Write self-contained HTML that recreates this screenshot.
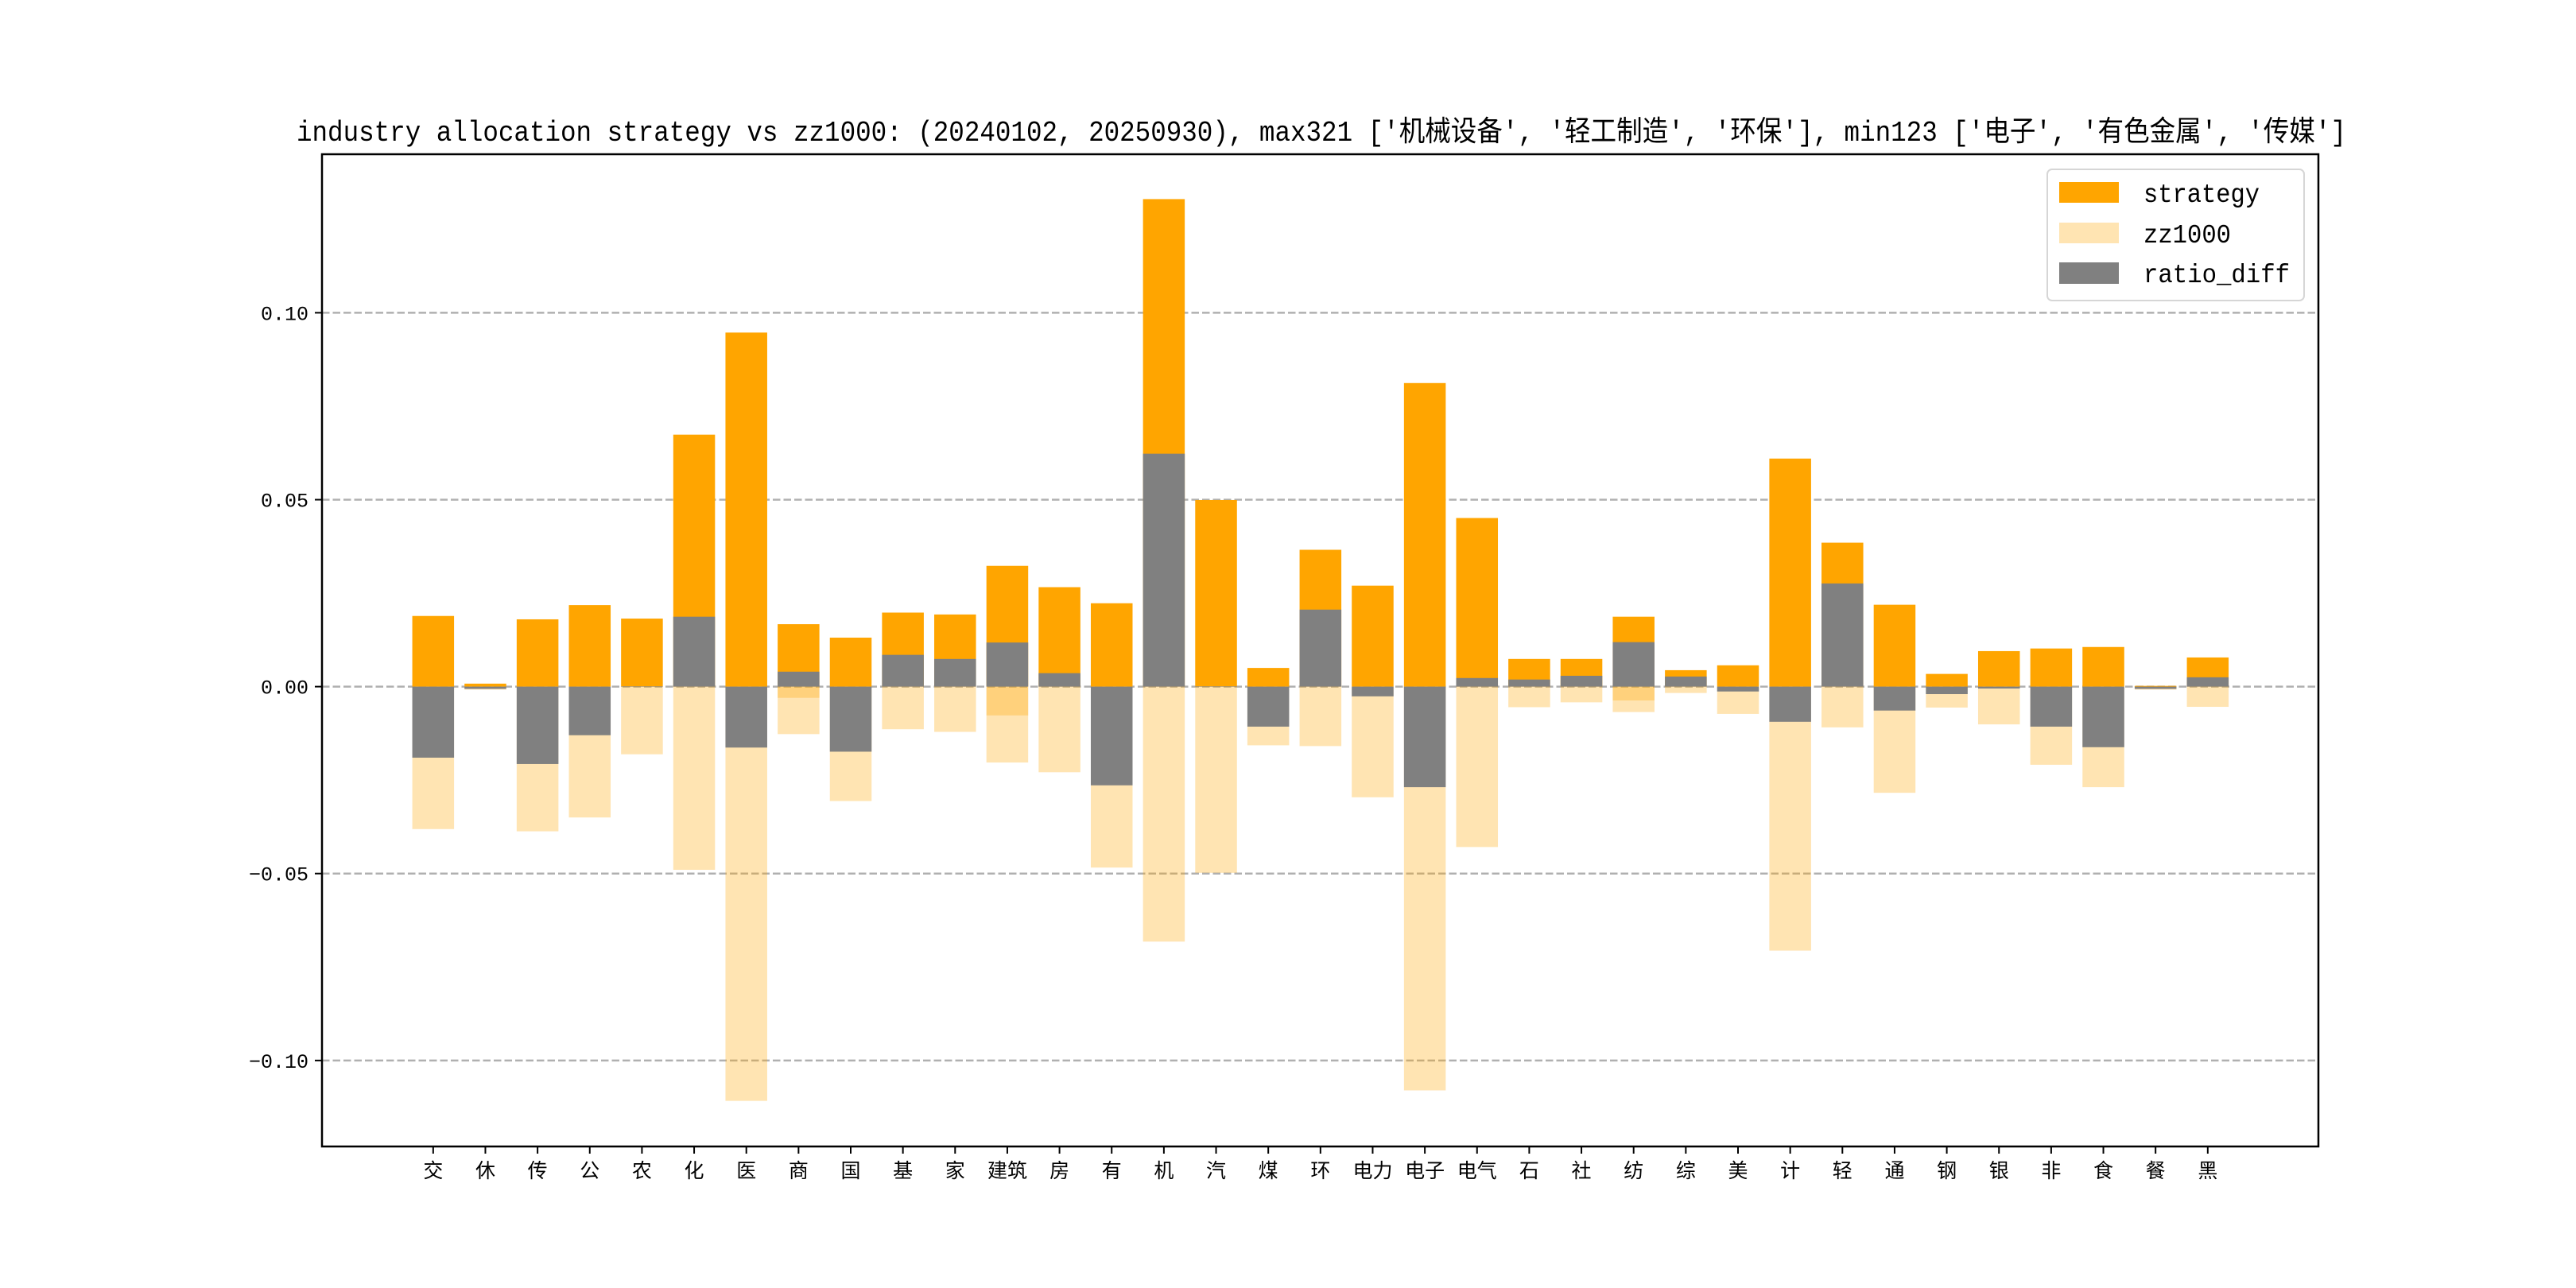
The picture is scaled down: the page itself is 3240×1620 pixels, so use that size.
<!DOCTYPE html>
<html><head><meta charset="utf-8"><style>
html,body{margin:0;padding:0;background:#fff;}
svg{display:block;}
text{font-family:"Liberation Mono","Noto Sans CJK SC",monospace;}
</style></head><body>
<svg id="chart" width="3240" height="1620" viewBox="0 0 3240 1620" xmlns="http://www.w3.org/2000/svg">
<rect width="3240" height="1620" fill="#fff"/>
<text x="373" y="177" font-size="36" textLength="2578" lengthAdjust="spacingAndGlyphs" fill="#000">industry allocation strategy vs zz1000: (20240102, 20250930), max321 ['机械设备', '轻工制造', '环保'], min123 ['电子', '有色金属', '传媒']</text>
<g id="grid"></g>
<g id="bars"></g>
<g id="axes"></g>
<g>
<rect x="2575" y="213" width="323" height="165" rx="6" fill="#fff" fill-opacity="0.8" stroke="#d6d6d6" stroke-width="2"/>
<rect x="2590" y="229" width="75" height="26" fill="#FFA500"/>
<text x="2696" y="254" font-size="33" textLength="146" lengthAdjust="spacingAndGlyphs">strategy</text>
<rect x="2590" y="280" width="75" height="26" fill="#FFA500" fill-opacity="0.3"/>
<text x="2696" y="305" font-size="33" textLength="110" lengthAdjust="spacingAndGlyphs">zz1000</text>
<rect x="2590" y="330" width="75" height="27" fill="#808080"/>
<text x="2696" y="355" font-size="33" textLength="184" lengthAdjust="spacingAndGlyphs">ratio_diff</text>
</g>
</svg>
<script>
const categories = ['交','休','传','公','农','化','医','商','国','基','家','建筑','房','有','机','汽','煤','环','电力','电子','电气','石','社','纺','综','美','计','轻','通','钢','银','非','食','餐','黑'];
const strategyVals = [0.0189,0.0008,0.0180,0.0218,0.0182,0.0674,0.0947,0.0167,0.0131,0.0198,0.0193,0.0323,0.0266,0.0223,0.1304,0.0499,0.0050,0.0366,0.0270,0.0812,0.0451,0.0074,0.0074,0.0187,0.0044,0.0057,0.0610,0.0385,0.0219,0.0034,0.0095,0.0102,0.0106,0.0002,0.0078];
const zz1000Vals = [-0.0381,-0.0008,-0.0387,-0.0350,-0.0181,-0.0490,-0.1108,-0.0127,-0.0306,-0.0114,-0.0121,-0.0203,-0.0229,-0.0484,-0.0682,-0.0498,-0.0157,-0.0159,-0.0296,-0.1080,-0.0429,-0.0055,-0.0042,-0.0068,-0.0017,-0.0073,-0.0706,-0.0109,-0.0284,-0.0056,-0.0101,-0.0209,-0.0269,-0.0008,-0.0054];
const ratioDiffVals = [-0.0190,-0.0006,-0.0207,-0.0130,0.0001,0.0187,-0.0163,0.0040,-0.0174,0.0085,0.0074,0.0118,0.0036,-0.0264,0.0623,0.0001,-0.0107,0.0206,-0.0026,-0.0269,0.0023,0.0019,0.0029,0.0119,0.0027,-0.0013,-0.0094,0.0276,-0.0064,-0.0020,-0.0005,-0.0107,-0.0162,-0.0006,0.0025];
const overlapVals = [0,0,0,0,0,0,0,-0.0030,0,0,0,-0.0077,0,0,0,0,0,0,0,0,0,0,0,-0.0037,0,0,0,0,0,0,0,0,0,0,0];
const yTicks = [0.10,0.05,0.00,-0.05,-0.10];
const yTickLabels = ['0.10','0.05','0.00','\u22120.05','\u22120.10'];

const AX = {left:405, right:2916, top:194, bottom:1442};
const xMin = -2.13, xMax = 36.12, yMin = -0.123, yMax = 0.1424;
const NS = 'http://www.w3.org/2000/svg';
function xScale(i){ return AX.left + (i - xMin) / (xMax - xMin) * (AX.right - AX.left); }
function yScale(v){ return AX.bottom - (v - yMin) / (yMax - yMin) * (AX.bottom - AX.top); }
const bandW = xScale(1) - xScale(0);
const barW = bandW * 0.8;
function mk(tag, attrs, parent){ const e=document.createElementNS(NS,tag); for(const k in attrs) e.setAttribute(k, attrs[k]); parent.appendChild(e); return e; }

const grid = document.getElementById('grid');
const bars = document.getElementById('bars');
const axes = document.getElementById('axes');

yTicks.forEach((t,i)=>{
  const y = yScale(t);
  const g = mk('line',{x1:AX.left,x2:AX.right,y1:y,y2:y,stroke:'#b0b0b0','stroke-width':2.5,'stroke-dasharray':'9.5,4'},grid);
  
  
});

function drawSeries(vals, fill, opacity, name){
  vals.forEach((v,i)=>{
    if (v === 0) return;
    const y0 = yScale(0), y1 = yScale(v);
    const r = mk('rect',{x:xScale(i)-barW/2,y:Math.min(y0,y1),width:barW,height:Math.abs(y1-y0),fill:fill,'fill-opacity':opacity},bars);
    
    
  });
}
drawSeries(zz1000Vals, '#FFA500', 0.3, 'zz1000');
drawSeries(overlapVals, '#FFA500', 0.3, 'overlap');
drawSeries(strategyVals, '#FFA500', 1, 'strategy');
drawSeries(ratioDiffVals, '#808080', 1, 'ratio-diff');

const frame = mk('rect',{x:AX.left,y:AX.top,width:AX.right-AX.left,height:AX.bottom-AX.top,fill:'none',stroke:'#000','stroke-width':2.5},axes);



yTicks.forEach((t,i)=>{
  const y = yScale(t);
  const tk = mk('line',{x1:AX.left-9,x2:AX.left,y1:y,y2:y,stroke:'#000','stroke-width':2},axes);
  
  
  const lb = mk('text',{x:AX.left-17,y:y+9,'font-size':25,'text-anchor':'end',fill:'#000'},axes);
  lb.textContent = yTickLabels[i];
  
  
});

categories.forEach((c,i)=>{
  const x = xScale(i);
  const tk = mk('line',{x1:x,x2:x,y1:AX.bottom,y2:AX.bottom+9,stroke:'#000','stroke-width':2},axes);
  
  
  const lb = mk('text',{x:x,y:AX.bottom+39,'font-size':25,'text-anchor':'middle',fill:'#000'},axes);
  lb.textContent = c;
  
  
});
</script>
</body></html>
